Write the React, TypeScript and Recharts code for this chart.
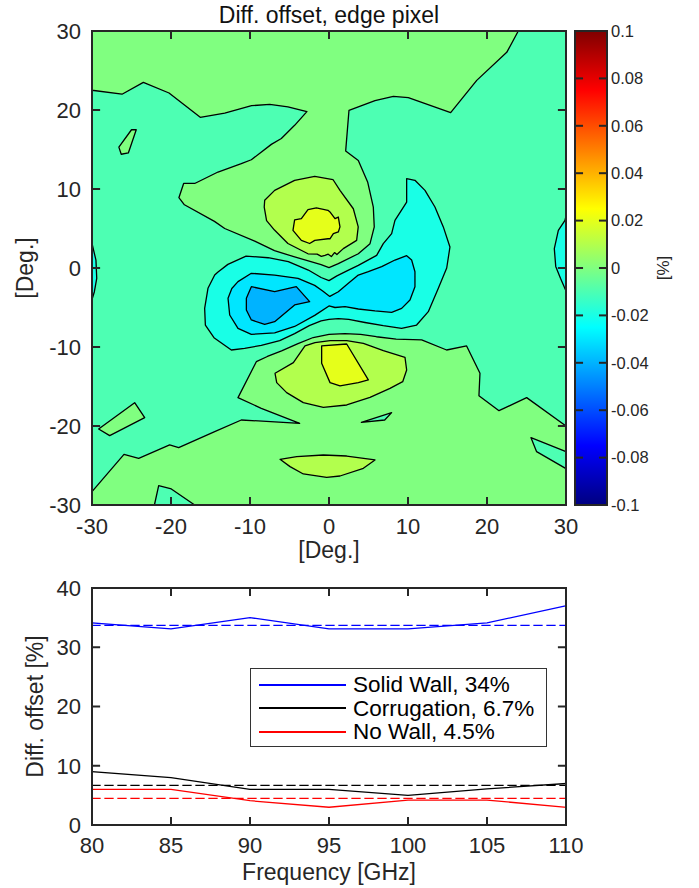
import React from "react";
import { ScatterChart, Scatter, XAxis, YAxis, Polygon, Legend } from "recharts";

type Pt = [number, number];

const FONT = '"Liberation Sans", Arial, Helvetica, sans-serif';
const AXIS = "#262626";

// ---- contour map (degrees) ----
const degTicks = [-30, -20, -10, 0, 10, 20, 30];
const mapTitle = "Diff. offset, edge pixel";

const mapFrame: Pt[] = [[-30, -30], [30, -30], [30, 30], [-30, 30]];
const upperZero: Pt[] = [
  [-30, 30], [23.96, 30], [22.5, 27.3], [18.7, 23.75], [15.4, 19.66], [10.04, 21.56], [8.14, 21.73],
  [5.82, 21.2], [2.53, 19.96], [2.11, 14.8], [3.71, 13.6], [4.89, 10.9], [5.61, 7.7], [5.73, 5.2],
  [5.19, 3.08], [3.71, 1.8], [1.18, 0.55], [0, 0.05], [-1.0, 0.42], [-4.35, 1.4], [-6.9, 2.2],
  [-9.4, 3.4], [-13.2, 5.0], [-14.5, 5.9], [-18.3, 8.0], [-19.0, 8.9], [-18.4, 10.7], [-17.0, 10.7],
  [-14.05, 12.15], [-11.1, 13.2], [-9.83, 13.7], [-7.3, 15.65], [-6.03, 16.4], [-4.35, 18.06],
  [-2.8, 19.8], [-5.2, 20.4], [-7.5, 20.7], [-9.8, 20.55], [-13.2, 19.6], [-16.3, 19.07],
  [-20.25, 22.15], [-23.5, 23.5], [-26.2, 22.0], [-30, 22.5],
];
const lowerZero: Pt[] = [
  [-30, -28.31], [-25.95, -23.59], [-24.09, -24.09], [-20.17, -22.4], [-19.03, -22.74],
  [-14.47, -20.72], [-11.1, -19.24], [-3.71, -19.66], [-8.57, -17.76], [-11.52, -16.41],
  [-9.2, -11.86], [-7.8, -11.2], [-6, -10.5], [-4, -9.6], [-2, -8.8], [0, -8.4], [2, -8.3],
  [4, -8.4], [6, -8.7], [8.5, -9.0], [11.73, -9.11], [14.89, -10.38], [17.42, -9.87],
  [19.11, -13.33], [18.98, -16.16], [21.52, -18.06], [25.02, -16.41], [30, -20.0], [30, -30], [-30, -30],
];
const islandUpperLeft: Pt[] = [[-25.0, 17.5], [-24.4, 17.5], [-25.4, 14.56], [-26.3, 14.4], [-26.6, 15.3]];
const islandLowerLeft: Pt[] = [[-29.16, -20.38], [-24.6, -17.05], [-23.33, -18.94], [-27.76, -21.22]];
const tealBottomEdge: Pt[] = [[-22.1, -30], [-21.56, -27.55], [-19.96, -27.97], [-17.0, -30]];
const tealRightEdge: Pt[] = [[25.57, -21.48], [30, -23.25], [30, -25.4], [26.28, -23.25]];
const tealSliver: Pt[] = [[4.1, -19.55], [7.93, -18.31], [7.05, -19.24]];
const upperPlusOne: Pt[] = [
  [-8.2, 7.7], [-8.14, 8.57], [-6.88, 9.83], [-4.35, 11.1], [-1.81, 11.6], [0.5, 11.2], [1.39, 9.83],
  [3.08, 7.5], [3.7, 5.2], [3.5, 3.5], [1.81, 2.45], [1.0, 1.7], [0.7, 1.95], [0.3, 1.45],
  [-0.1, 1.75], [-0.51, 1.6], [-0.97, 1.48], [-1.5, 1.75], [-2.66, 1.8], [-5.2, 3.1], [-6.9, 4.8], [-7.9, 6.0],
];
const upperPlusTwo: Pt[] = [
  [-4.35, 6.1], [-3.5, 6.25], [-2.66, 7.4], [-1.6, 7.6], [-0.13, 7.3], [0.12, 7.1], [0.76, 6.25],
  [1.18, 6.45], [1.39, 5.2], [1.18, 4.56], [0.55, 4.35], [0.12, 3.7], [-0.13, 3.7], [-1.8, 3.5],
  [-2.45, 3.1], [-3.5, 3.5], [-4.56, 4.77],
];
const lowerPlusOne: Pt[] = [
  [-6.83, -13.33], [-4.51, -11.98], [-3.04, -9.87], [-1.77, -9.45], [0.13, -9.2], [2.24, -9.2],
  [4.35, -9.53], [6.88, -10.46], [9.62, -11.31], [9.83, -12.91], [9.33, -14.39], [7.72, -15.23],
  [5.19, -16.37], [2.24, -17.34], [-0.72, -17.64], [-3.25, -17.04], [-5.36, -15.78], [-6.62, -14.51],
];
const lowerPlusTwo: Pt[] = [
  [-0.93, -9.87], [2.24, -9.62], [4.98, -14.17], [3.71, -14.51], [1.39, -14.93], [0.13, -14.51], [-0.93, -12.07],
];
const bottomPlusOne: Pt[] = [
  [-6.2, -24.22], [-4.09, -23.88], [-0.72, -23.67], [2.24, -23.8], [5.82, -24.3], [4.35, -25.36],
  [1.39, -26.33], [-0.3, -26.5], [-3.25, -26.07], [-4.93, -25.14],
];
const cyanLobes: Pt[] = [
  [0, -1.6], [-1, -1.2], [-2.62, -0.26], [-5.15, 0.8], [-7.7, 1.3], [-10.5, 1.5], [-12.8, 0.46],
  [-14.05, -0.5], [-14.47, -0.89], [-15.32, -2.57], [-15.74, -5.11], [-15.65, -7.22], [-14.56, -8.82],
  [-12.36, -10.38], [-10.68, -10.17], [-8.57, -9.8], [-6.24, -9.2], [-4.35, -8.3], [-2.5, -7.3],
  [-1, -6.7], [0, -6.5], [1.18, -6.4], [2.5, -6.5], [4.55, -6.9], [6.87, -7.3], [9.19, -7.64],
  [11.09, -7.22], [12.57, -5.53], [13.84, -2.57], [14.9, 0.0], [15.31, 2.66], [14.47, 5.2],
  [13.41, 7.72], [12.15, 9.83], [10.88, 11.1], [9.83, 11.3], [9.83, 8.35], [8.35, 6.03], [7.93, 4.35],
  [6.87, 3.08], [6.03, 1.6], [3.71, 0.34], [2.4, -0.3], [1.0, -1.0],
];
const cyanLeftEdge: Pt[] = [[-30, 3.1], [-29.5, 1.0], [-29.4, -1.3], [-29.7, -3.0], [-30, -4.0]];
const cyanRightEdge: Pt[] = [[30, 6.6], [29.87, 6.03], [29.03, 4.77], [28.52, 2.45], [28.7, 0.2], [29.3, -1.3], [30, -2.9]];
const lightBlue: Pt[] = [
  [-12.78, -3.84], [-12.3, -2.6], [-11.52, -1.73], [-9.83, -0.67], [-6.88, -0.89], [-3.92, -1.31],
  [-1.81, -2.2], [-0.8, -2.9], [0.1, -3.6], [1.18, -3.0], [2.45, -1.94], [3.71, -0.89], [4.98, -0.47],
  [6.67, 0.17], [8.35, 1.01], [9.83, 1.56], [10.46, 1.01], [10.88, -0.47], [10.88, -2.37],
  [10.25, -4.05], [9.2, -5.11], [7.93, -5.61], [5.82, -5.44], [3.71, -5.19], [2.03, -4.9],
  [0.76, -5.0], [0, -4.8], [-1.81, -6.0], [-4.35, -7.4], [-6.88, -8.2], [-9.83, -8.4],
  [-11.52, -7.64], [-12.57, -5.95],
];
const deepBlue: Pt[] = [
  [-9.83, -2.36], [-6.88, -3.0], [-4.14, -2.36], [-2.45, -4.26], [-4.35, -4.68], [-6.88, -6.79],
  [-8.14, -7.13], [-9.83, -6.58], [-10.46, -5.32], [-10.46, -3.84],
];

// painted in order, each region filled with the colour of its level
const contourLayers: { level: number; pts: Pt[]; outline: boolean }[] = [
  { level: -0.01, pts: mapFrame, outline: false },
  { level: 0, pts: upperZero, outline: true },
  { level: 0, pts: lowerZero, outline: true },
  { level: 0, pts: islandUpperLeft, outline: true },
  { level: 0, pts: islandLowerLeft, outline: true },
  { level: -0.01, pts: tealBottomEdge, outline: true },
  { level: -0.01, pts: tealRightEdge, outline: true },
  { level: -0.01, pts: tealSliver, outline: true },
  { level: 0.01, pts: upperPlusOne, outline: true },
  { level: 0.02, pts: upperPlusTwo, outline: true },
  { level: 0.01, pts: lowerPlusOne, outline: true },
  { level: 0.02, pts: lowerPlusTwo, outline: true },
  { level: 0.01, pts: bottomPlusOne, outline: true },
  { level: -0.02, pts: cyanLobes, outline: true },
  { level: -0.02, pts: cyanLeftEdge, outline: true },
  { level: -0.02, pts: cyanRightEdge, outline: true },
  { level: -0.03, pts: lightBlue, outline: true },
  { level: -0.04, pts: deepBlue, outline: true },
];

// ---- colorbar ----
const cbMin = -0.1;
const cbMax = 0.1;
const cbTicks = [-0.1, -0.08, -0.06, -0.04, -0.02, 0, 0.02, 0.04, 0.06, 0.08, 0.1];
const cbFrame: Pt[] = [[0, cbMin], [1, cbMin], [1, cbMax], [0, cbMax]];

// ---- frequency sweep ----
const freqs = [80, 85, 90, 95, 100, 105, 110];
const freqTicks = [80, 85, 90, 95, 100, 105, 110];
const pctTicks = [0, 10, 20, 30, 40];
const solidWall = [34.1, 33.1, 35.0, 33.1, 33.1, 34.1, 37.0];
const corrugation = [9.0, 8.0, 6.0, 6.0, 5.0, 6.1, 7.0];
const noWall = [6.0, 6.0, 4.1, 3.0, 4.2, 4.2, 3.0];
const seriesNames = ["Solid Wall, 34%", "Corrugation, 6.7%", "No Wall, 4.5%"];
const seriesMeans = [33.7, 6.7, 4.5];
const seriesColors = ["#0000ff", "#000000", "#ff0000"];
const seriesValues = [solidWall, corrugation, noWall];
const freqFrame: Pt[] = [[80, 0], [110, 0], [110, 40], [80, 40]];

// inward tick length, in each axis' own units (~7px)
const MAP_TICK = 0.9;
const CB_TICK = 0.22;
const FREQ_TICK = 0.45;
const PCT_TICK = 1.2;

const clamp = (v: number) => Math.max(0, Math.min(1, v));
function jet(level: number) {
  const t = (level - cbMin) / (cbMax - cbMin);
  const r = clamp(1.5 - Math.abs(4 * t - 3));
  const g = clamp(1.5 - Math.abs(4 * t - 2));
  const b = clamp(1.5 - Math.abs(4 * t - 1));
  const h = (v: number) => Math.round(v * 255).toString(16).padStart(2, "0");
  return `#${h(r)}${h(g)}${h(b)}`;
}

const toXY = (pts: Pt[]) => pts.map(([x, y]) => ({ x, y }));
const closeRing = (pts: Pt[]) => [...pts, pts[0]];
const noSymbol = () => <g />;
const tickText = { fontSize: 22, fill: AXIS };

// a filled region drawn through the scatter line hook
function areaSeries(key: string, pts: Pt[], fill: string, stroke: string, width: number) {
  return (
    <Scatter
      key={key}
      data={toXY(pts)}
      isAnimationActive={false}
      legendType="none"
      shape={noSymbol}
      line={(p: any) => (
        <Polygon points={p.points} fill={fill} stroke={stroke} strokeWidth={width} strokeLinejoin="round" />
      )}
    />
  );
}

// an open polyline (series, mean line, frame or tick)
function pathSeries(key: string, pts: Pt[], stroke: string, width: number, dash?: string, name?: string) {
  return (
    <Scatter
      key={key}
      name={name}
      data={toXY(pts)}
      fill={stroke}
      isAnimationActive={false}
      legendType={name ? "line" : "none"}
      shape={noSymbol}
      line={{ stroke, strokeWidth: width, strokeDasharray: dash, strokeLinecap: "square", fill: "none" }}
    />
  );
}

function frameAndTicks(
  id: string,
  xs: number[],
  ys: number[],
  xLen: number,
  yLen: number,
  [x0, x1]: [number, number],
  [y0, y1]: [number, number]
) {
  const segs: Pt[][] = [closeRing([[x0, y0], [x1, y0], [x1, y1], [x0, y1]])];
  xs.slice(1, -1).forEach((t) => {
    if (yLen > 0) {
      segs.push([[t, y0], [t, y0 + yLen]]);
      segs.push([[t, y1], [t, y1 - yLen]]);
    }
  });
  ys.slice(1, -1).forEach((t) => {
    segs.push([[x0, t], [x0 + xLen, t]]);
    segs.push([[x1, t], [x1 - xLen, t]]);
  });
  return segs.map((s, i) => pathSeries(`${id}${i}`, s, AXIS, 2));
}

function renderLegend(props: any) {
  const items = [...(props.payload || [])]
    .filter((e: any) => seriesNames.includes(e.value))
    .sort((a: any, b: any) => seriesNames.indexOf(a.value) - seriesNames.indexOf(b.value));
  return (
    <div
      style={{
        boxSizing: "border-box",
        width: 297,
        height: 79,
        border: "1px solid #333",
        background: "#fff",
        paddingTop: 4,
      }}
    >
      {items.map((e: any) => (
        <div key={e.value} style={{ display: "flex", alignItems: "center", height: 23.5 }}>
          <span style={{ display: "block", width: 87, marginLeft: 8, height: 0, borderTop: `2px solid ${e.color}` }} />
          <span style={{ marginLeft: 7, fontSize: 22.5, lineHeight: "23.5px", color: "#000", whiteSpace: "nowrap" }}>
            {e.value}
          </span>
        </div>
      ))}
    </div>
  );
}

export default function App() {
  return (
    <div
      style={{
        position: "absolute",
        left: 0,
        top: 0,
        width: 699,
        height: 888,
        background: "#fff",
        fontFamily: FONT,
      }}
    >
      {/* contour map */}
      <div style={{ position: "absolute", left: 0, top: 0 }}>
        <ScatterChart width={699} height={570} margin={{ top: 30, right: 133, bottom: 5, left: 0 }}>
          {contourLayers.map((layer, i) =>
            areaSeries(`c${i}`, layer.pts, jet(layer.level), layer.outline ? "#000" : "none", 1.3)
          )}
          {frameAndTicks("mt", degTicks, degTicks, MAP_TICK, MAP_TICK, [-30, 30], [-30, 30])}
          <XAxis
            dataKey="x"
            type="number"
            domain={[-30, 30]}
            ticks={degTicks}
            interval={0}
            height={60}
            axisLine={false}
            tickLine={false}
            tickSize={-7}
            tickMargin={20}
            tick={tickText}
            label={{ value: "[Deg.]", position: "insideTop", offset: 37, fontSize: 23, fill: AXIS }}
          />
          <XAxis
            xAxisId="top"
            orientation="top"
            type="number"
            domain={[-30, 30]}
            ticks={degTicks}
            height={1}
            axisLine={false}
            tickLine={false}
            tick={false}
            label={{ value: mapTitle, position: "top", offset: 7, fontSize: 23, fill: "#111" }}
          />
          <YAxis
            dataKey="y"
            type="number"
            domain={[-30, 30]}
            ticks={degTicks}
            interval={0}
            width={92}
            axisLine={false}
            tickLine={false}
            tickSize={-7}
            tickMargin={18}
            tick={tickText}
            label={{
              value: "[Deg.]",
              angle: -90,
              position: "insideLeft",
              offset: 25,
              fontSize: 23,
              fill: AXIS,
              style: { textAnchor: "middle" },
            }}
          />
        </ScatterChart>
      </div>

      {/* colorbar */}
      <div style={{ position: "absolute", left: 560, top: 0 }}>
        <ScatterChart width={139} height={560} margin={{ top: 31, right: 0, bottom: 55, left: 15 }}>
          <defs>
            <linearGradient id="jetScale" x1="0" y1="0" x2="0" y2="1">
              {Array.from({ length: 41 }, (_, i) => (
                <stop key={i} offset={i / 40} stopColor={jet(cbMax - ((cbMax - cbMin) * i) / 40)} />
              ))}
            </linearGradient>
          </defs>
          <XAxis dataKey="x" type="number" domain={[0, 1]} hide />
          {areaSeries("cbBar", cbFrame, "url(#jetScale)", "none", 0)}
          {frameAndTicks("ct", [0, 1], cbTicks, CB_TICK, 0, [0, 1], [cbMin, cbMax])}
          <YAxis
            dataKey="y"
            orientation="right"
            type="number"
            domain={[cbMin, cbMax]}
            ticks={cbTicks}
            interval={0}
            width={92}
            axisLine={false}
            tickLine={false}
            tickSize={-7}
            tickMargin={11}
            tick={{ fontSize: 16.5, fill: AXIS }}
            tickFormatter={(v: number) => String(v)}
            label={{
              value: "[%]",
              angle: -90,
              position: "insideLeft",
              offset: 56,
              fontSize: 17,
              fill: AXIS,
              style: { textAnchor: "middle" },
            }}
          />
        </ScatterChart>
      </div>

      {/* frequency sweep */}
      <div style={{ position: "absolute", left: 0, top: 560 }}>
        <ScatterChart width={699} height={328} margin={{ top: 28, right: 133, bottom: 0, left: 0 }}>
          {seriesMeans.map((m, i) =>
            pathSeries(`mean${i}`, [[freqs[0], m], [freqs[freqs.length - 1], m]], seriesColors[i], 1.3, "8 5")
          )}
          {seriesValues.map((vals, i) =>
            pathSeries(
              `s${i}`,
              freqs.map((f, j) => [f, vals[j]] as Pt),
              seriesColors[i],
              1.3,
              undefined,
              seriesNames[i]
            )
          )}
          {frameAndTicks("ft", freqTicks, pctTicks, FREQ_TICK, PCT_TICK, [80, 110], [0, 40])}
          <XAxis
            dataKey="x"
            type="number"
            domain={[80, 110]}
            ticks={freqTicks}
            interval={0}
            height={63}
            axisLine={false}
            tickLine={false}
            tickSize={-7}
            tickMargin={19}
            tick={tickText}
            label={{ value: "Frequency [GHz]", position: "insideTop", offset: 39, fontSize: 23, fill: AXIS }}
          />
          <YAxis
            dataKey="y"
            type="number"
            domain={[0, 40]}
            ticks={pctTicks}
            interval={0}
            width={92}
            axisLine={false}
            tickLine={false}
            tickSize={-7}
            tickMargin={18}
            tick={tickText}
            label={{
              value: "Diff. offset [%]",
              angle: -90,
              position: "insideLeft",
              offset: 35,
              fontSize: 23,
              fill: AXIS,
              style: { textAnchor: "middle" },
            }}
          />
          <Legend
            layout="vertical"
            align="center"
            verticalAlign="middle"
            wrapperStyle={{ left: 250, top: 108, width: 297, height: 79 }}
            content={renderLegend}
          />
        </ScatterChart>
      </div>
    </div>
  );
}
